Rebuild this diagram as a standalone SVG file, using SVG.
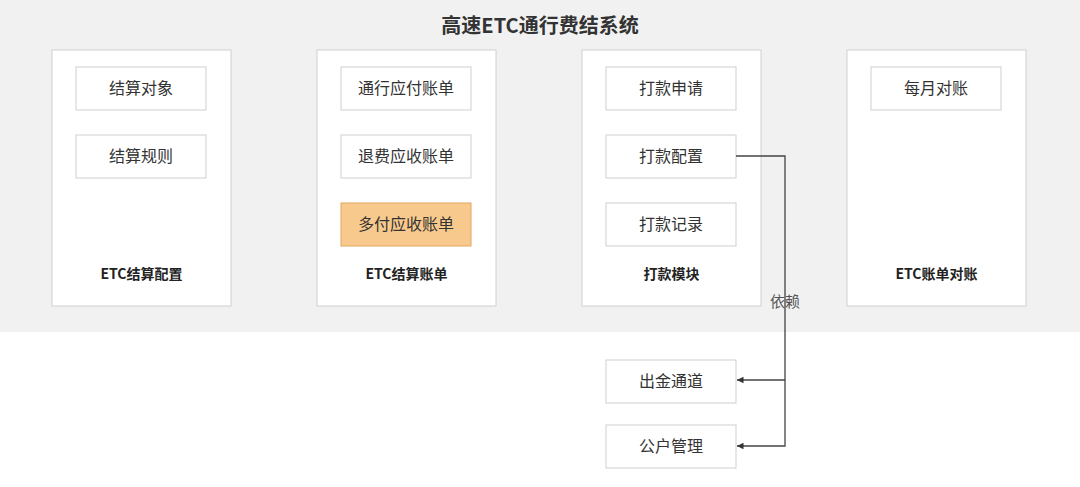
<svg xmlns="http://www.w3.org/2000/svg" width="1080" height="487" viewBox="0 0 1080 487">
<style>
text{font-family:"Noto Sans CJK SC","Noto Sans",sans-serif;text-anchor:middle;dominant-baseline:central}
.c{fill:#fff;stroke:#d0d0d0;stroke-width:1}
.b{fill:#fff;stroke:#cfcfcf;stroke-width:1}
.t{font-size:16px;fill:#333}
.h{font-size:14px;font-weight:bold;fill:#222}
.l{fill:none;stroke:#444;stroke-width:1.3}
</style>
<defs><marker id="a" markerWidth="6" markerHeight="6" refX="5" refY="3" orient="auto"><path d="M0,0.5L5,3L0,5.5z" fill="#333"/></marker></defs>
<rect x="0" y="0" width="1080" height="332" fill="#f1f1f1"/>
<text x="540" y="24" style="font-size:20px;font-weight:bold;fill:#333">高速ETC通行费结系统</text>
<g id="g1"><rect class="c" x="52" y="50" width="179" height="256"/><text class="h" x="141.5" y="272.5">ETC结算配置</text></g>
<g id="n1"><rect class="b" x="76" y="67" width="130" height="43"/><text class="t" x="141" y="87">结算对象</text></g>
<g id="n2"><rect class="b" x="76" y="135" width="130" height="43"/><text class="t" x="141" y="155">结算规则</text></g>
<g id="g2"><rect class="c" x="317" y="50" width="179" height="256"/><text class="h" x="406.5" y="272.5">ETC结算账单</text></g>
<g id="n3"><rect class="b" x="341" y="67" width="130" height="43"/><text class="t" x="406" y="87">通行应付账单</text></g>
<g id="n4"><rect class="b" x="341" y="135" width="130" height="43"/><text class="t" x="406" y="155">退费应收账单</text></g>
<g id="n5"><rect x="341" y="203" width="130" height="43" fill="#f8c98d" stroke="#e0a860"/><text class="t" x="406" y="223">多付应收账单</text></g>
<g id="g3"><rect class="c" x="582" y="50" width="179" height="256"/><text class="h" x="671.5" y="272.5">打款模块</text></g>
<g id="n6"><rect class="b" x="606" y="67" width="130" height="43"/><text class="t" x="671" y="87">打款申请</text></g>
<g id="n7"><rect class="b" x="606" y="135" width="130" height="43"/><text class="t" x="671" y="155">打款配置</text></g>
<g id="n8"><rect class="b" x="606" y="203" width="130" height="43"/><text class="t" x="671" y="223">打款记录</text></g>
<g id="g4"><rect class="c" x="847" y="50" width="179" height="256"/><text class="h" x="936.5" y="272.5">ETC账单对账</text></g>
<g id="n9"><rect class="b" x="871" y="67" width="130" height="43"/><text class="t" x="936" y="87">每月对账</text></g>
<g id="n10"><rect class="b" x="606" y="360" width="130" height="43"/><text class="t" x="671" y="380">出金通道</text></g>
<g id="n11"><rect class="b" x="606" y="425" width="130" height="43"/><text class="t" x="671" y="445">公户管理</text></g>
<g id="edges">
<path class="l" d="M736,156H785V446H737" marker-end="url(#a)"/>
<path class="l" d="M785,380H737" marker-end="url(#a)"/>
<text x="785" y="300" style="font-size:15px;fill:#555">依赖</text>
</g>
</svg>
